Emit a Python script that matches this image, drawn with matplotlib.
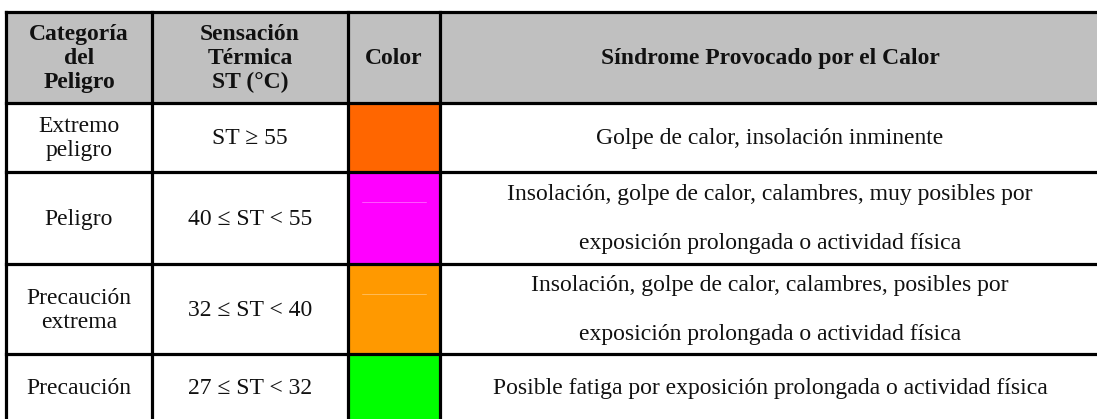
import matplotlib.pyplot as plt
from matplotlib.patches import Rectangle

# table content
headers = ["Categoría\ndel\nPeligro", "Sensación\nTérmica\nST (°C)", "Color",
           "Síndrome Provocado por el Calor"]
categorias = ["Extremo\npeligro", "Peligro", "Precaución\nextrema", "Precaución"]
rangos = ["ST ≥ 55", "40 ≤ ST < 55", "32 ≤ ST < 40", "27 ≤ ST < 32"]
colores = ["#FF6600", "#FF00FF", "#FF9900", "#00FF00"]
sindromes = ["Golpe de calor, insolación inminente",
             "Insolación, golpe de calor, calambres, muy posibles por\nexposición prolongada o actividad física",
             "Insolación, golpe de calor, calambres, posibles por\nexposición prolongada o actividad física",
             "Posible fatiga por exposición prolongada o actividad física"]

# layout (pixels)
col_x = [6, 152, 348, 440, 1100]
row_y = [12, 103, 172, 264, 354, 421]
W, H = 1097, 419

fig = plt.figure(figsize=(W / 100, H / 100), dpi=100)
ax = fig.add_axes([0, 0, 1, 1])
ax.set_xlim(0, W)
ax.set_ylim(H, 0)
ax.axis("off")

font = "Liberation Serif"


def put(text, cx, cy, gap, bold=False, size=17):
    lines = text.split("\n")
    n = len(lines)
    for i, ln in enumerate(lines):
        y = cy + (i - (n - 1) / 2) * gap - 1.5
        ax.text(cx, y, ln, ha="center", va="center_baseline", family=font,
                fontsize=size, fontweight="bold" if bold else "normal",
                color="#111111")


# header background
ax.add_patch(Rectangle((col_x[0], row_y[0]), col_x[-1] - col_x[0],
                       row_y[1] - row_y[0], facecolor="#C0C0C0", edgecolor="none"))

# color cells
for i, c in enumerate(colores):
    ax.add_patch(Rectangle((col_x[2], row_y[i + 1]), col_x[3] - col_x[2],
                           row_y[i + 2] - row_y[i + 1], facecolor=c, edgecolor="none"))
    if i in (1, 2):
        ym = row_y[i + 1] + 30
        ax.plot([col_x[2] + 14, col_x[3] - 14], [ym, ym], color="white", lw=0.4, alpha=0.6)

# grid lines
lw = 2.3
for x in col_x:
    ax.plot([x, x], [row_y[0], row_y[-1]], color="black", lw=lw, solid_capstyle="projecting")
for y in row_y:
    ax.plot([col_x[0], col_x[-1]], [y, y], color="black", lw=lw, solid_capstyle="projecting")

# header text
centers = [(col_x[j] + col_x[j + 1]) / 2 for j in range(4)]
hy = (row_y[0] + row_y[1]) / 2
for j, h in enumerate(headers):
    put(h, centers[j], hy, 24, bold=True)

# body
for i in range(4):
    cy = (row_y[i + 1] + row_y[i + 2]) / 2
    put(categorias[i], centers[0], cy, 24)
    put(rangos[i], centers[1], cy, 24)
    put(sindromes[i], centers[3], cy, 49)

fig.savefig("out.png", dpi=100)
